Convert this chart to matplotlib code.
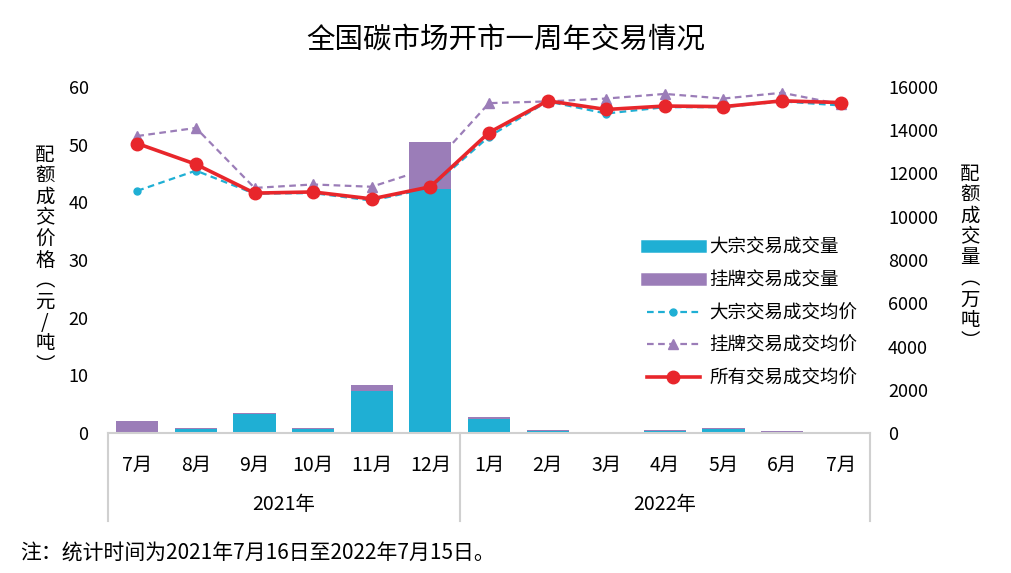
import matplotlib
matplotlib.use("Agg")
import matplotlib.pyplot as plt
from matplotlib.lines import Line2D

plt.rcParams['font.family'] = ['Noto Sans CJK SC', 'DejaVu Sans']

# data
months = ["7月", "8月", "9月", "10月", "11月", "12月",
          "1月", "2月", "3月", "4月", "5月", "6月", "7月"]
years = ["2021年", "2022年"]

# volumes, 万吨
bulk_vol = [50, 185, 895, 185, 1945, 11290, 650, 105, 10, 105, 200, 60, 10]
listed_vol = [510, 60, 30, 60, 275, 2180, 105, 45, 50, 45, 45, 45, 50]

# average prices, 元/吨
bulk_price = [42.0, 45.5, 41.5, 41.6, 40.3, 42.5, 51.4, 57.5, 55.4, 56.5, 56.5, 57.5, 56.8]
listed_price = [51.5, 52.9, 42.5, 43.1, 42.7, 46.0, 57.2, 57.5, 58.0, 58.8, 58.0, 59.0, 57.0]
all_price = [50.2, 46.6, 41.6, 41.8, 40.6, 42.7, 52.1, 57.6, 56.1, 56.7, 56.6, 57.6, 57.3]

blue = "#1FAFD4"
purple = "#9B7DB8"
red = "#E8262B"
grey = "#D0D0D0"

fig = plt.figure(figsize=(10.11, 5.73), dpi=100)
ax2 = fig.add_axes([108 / 1011, 140 / 573, 762 / 1011, 346 / 573])
ax = ax2.twinx()
# prices on top, volumes behind
ax.set_zorder(ax2.get_zorder() + 1)
ax.patch.set_visible(False)

# left axis carries prices, swap sides
ax.yaxis.tick_left()
ax2.yaxis.tick_right()

x = list(range(len(months)))
ax2.bar(x, bulk_vol, width=0.72, color=blue)
ax2.bar(x, listed_vol, width=0.72, bottom=bulk_vol, color=purple)

ax.plot(x, bulk_price, color=blue, ls="--", lw=1.6, marker="o", ms=5, dashes=(3, 2))
ax.plot(x, listed_price, color=purple, ls="--", lw=1.6, marker="^", ms=7, dashes=(3, 2))
ax.plot(x, all_price, color=red, lw=2.6, marker="o", ms=9)

ax.set_ylim(0, 60)
ax.set_yticks(range(0, 61, 10))
ax2.set_ylim(0, 16000)
ax2.set_yticks(range(0, 16001, 2000))
ax.set_xlim(-0.5, 12.5)
ax2.set_xlim(-0.5, 12.5)

for a in (ax, ax2):
    for s in a.spines.values():
        s.set_visible(False)
ax.tick_params(axis="y", length=0, pad=14, labelsize=13)
ax2.tick_params(axis="y", length=0, pad=13, labelsize=13, labelright=True, labelleft=False)
ax.tick_params(axis="x", length=0)

ax2.set_xticks(x)
ax2.set_xticklabels(months, fontsize=14)
ax2.tick_params(axis="x", length=0, pad=16)

# category axis frame
tr = ax2.get_xaxis_transform()
ax2.plot([-0.5, 12.5], [0, 0], color=grey, lw=1.5, transform=tr, clip_on=False)
for xs in (-0.5, 5.5, 12.5):
    ax2.plot([xs, xs], [0, -0.255], color=grey, lw=1.5, transform=tr, clip_on=False)
ax2.text(2.5, -0.208, years[0], transform=tr, ha="center", va="center", fontsize=14)
ax2.text(9, -0.208, years[1], transform=tr, ha="center", va="center", fontsize=14)

# vertical axis titles, stacked characters
left_lbl = "配额成交价格︵元/吨︶"
right_lbl = "配额成交量︵万吨︶"
fig.text(45 / 1011, 1 - 260 / 573, "\n".join(left_lbl), ha="center", va="center",
         fontsize=14, linespacing=1.0)
fig.text(970 / 1011, 1 - 258 / 573, "\n".join(right_lbl), ha="center", va="center",
         fontsize=14, linespacing=1.0)

fig.text(0.5, 1 - 40 / 573, "全国碳市场开市一周年交易情况", ha="center", va="center", fontsize=20.5)
fig.text(20 / 1011, 1 - 553 / 573, "注：统计时间为2021年7月16日至2022年7月15日。",
         ha="left", va="center", fontsize=15)

handles = [
    Line2D([], [], color=blue, lw=9),
    Line2D([], [], color=purple, lw=9),
    Line2D([], [], color=blue, ls="--", lw=1.6, marker="o", ms=5, dashes=(3, 2)),
    Line2D([], [], color=purple, ls="--", lw=1.6, marker="^", ms=7, dashes=(3, 2)),
    Line2D([], [], color=red, lw=2.6, marker="o", ms=9),
]
labels = ["大宗交易成交量", "挂牌交易成交量", "大宗交易成交均价", "挂牌交易成交均价", "所有交易成交均价"]
ax.legend(handles, labels, loc="upper left", bbox_to_anchor=(630 / 1011, 1 - 222 / 573),
          bbox_transform=fig.transFigure, frameon=False, fontsize=13.3,
          handlelength=2.9, labelspacing=0.8, handletextpad=0.5)

fig.savefig("out.png", dpi=100)
